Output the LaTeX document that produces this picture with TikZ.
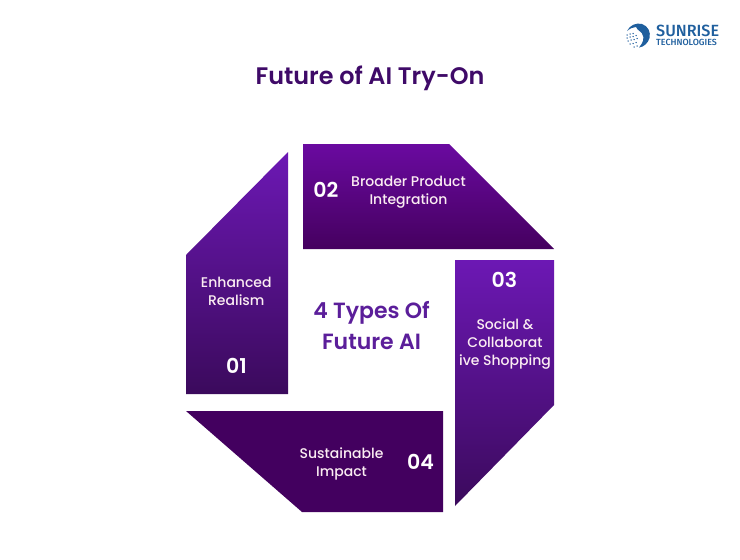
\documentclass[tikz,border=0pt]{standalone}
\usepackage{fontspec}
\setmainfont{Poppins Medium}
\newfontfamily\popsb{Poppins SemiBold}
\newfontfamily\logofont{Fira Sans Medium}
\definecolor{titlecol}{HTML}{3F0A68}
\definecolor{centercol}{HTML}{5B1E9A}
\definecolor{lighttop}{HTML}{6C18B4}
\definecolor{lightbot}{HTML}{3B0A5C}
\definecolor{midtop}{HTML}{6A0AA0}
\definecolor{midbot}{HTML}{45005F}
\definecolor{darkband}{HTML}{43005F}
\definecolor{logoblue}{HTML}{1F5F9E}
\tikzset{
  bandone/.style={top color=lighttop,bottom color=lightbot,draw=none},
  bandtwo/.style={top color=midtop,bottom color=midbot,draw=none},
  bandfour/.style={fill=darkband,draw=none},
  numlabel/.style={text=white,font=\popsb\fontsize{20.5}{24}\selectfont,inner sep=0pt},
  bodylabel/.style={text=white!93!purple,align=center,font=\fontsize{14}{18}\selectfont,inner sep=0pt},
  centerlabel/.style={text=centercol,align=center,font=\popsb\fontsize{22}{31}\selectfont,inner sep=0pt},
  logodot/.style={fill=logoblue,draw=none,circle,inner sep=0pt,minimum size=1.5pt}
}
\begin{document}
\begin{tikzpicture}[x=1pt,y=-1pt]
\useasboundingbox (0,0) rectangle (740,560);
\fill[white] (0,0) rectangle (740,560);
% bands
\path[bandone] (186,255) -- (288,152) -- (288,394) -- (186,394) -- cycle;
\path[bandtwo] (303,144) -- (449,144) -- (554,249) -- (303,249) -- cycle;
\path[bandone] (455,260) -- (554,260) -- (554,405) -- (455,506) -- cycle;
\path[bandfour] (186,411) -- (443,411) -- (443,512) -- (302,512) -- cycle;
% text
\node[text=titlecol,font=\popsb\fontsize{23.9}{28}\selectfont,inner sep=0pt] (title) at (370,78.5) {Future of AI Try-On};
\node[centerlabel] (center) at (371.5,326) {4 Types Of\\Future AI};
\node[bodylabel] (t1) at (236.3,291) {Enhanced\\Realism};
\node[numlabel] (n1) at (236.5,366) {01};
\node[bodylabel] (t2) at (408.5,192) {Broader Product\\Integration};
\node[numlabel] (n2) at (326,190) {02};
\node[bodylabel] (t3) at (505,344.5) {Social \&\\Collaborat\\ive Shopping};
\node[numlabel] (n3) at (504.5,280) {03};
\node[bodylabel] (t4) at (341.5,463.5) {Sustainable\\Impact};
\node[numlabel] (n4) at (420.5,462) {04};
% logo
\fill[logoblue] (627,31) .. controls (630,25) and (636,22.5) .. (642,24) .. controls (648,26) and (651,32) .. (649.5,38) .. controls (648,43) and (644,47) .. (639,47.5) .. controls (643,43) and (645,38) .. (642,33.5) .. controls (639,30) and (636,29) .. (636,27) .. controls (633,27) and (630,28.5) .. (627,31) -- cycle;
\foreach \i/\a/\b in {a/627/35,b/630/34,c/633/33.5,d/627/38,e/630/37,f/633/36.5,g/636/35.5,h/628/41,i/631/40,j/634/39.5,k/637/38.5,l/630/44,m/633/43.5,n/636/42.5,o/634/47,p/637/46}
  \node[logodot] (d\i) at (\a,\b) {};
\node[text=logoblue,font=\logofont\fontsize{16.2}{16}\selectfont,anchor=west,inner sep=0pt] (logoa) at (656,30.5) {SUNRISE};
\node[text=logoblue,font=\logofont\fontsize{8.9}{9}\selectfont,anchor=west,inner sep=0pt] (logob) at (656,42.3) {TECHNOLOGIES};
\end{tikzpicture}
\end{document}
